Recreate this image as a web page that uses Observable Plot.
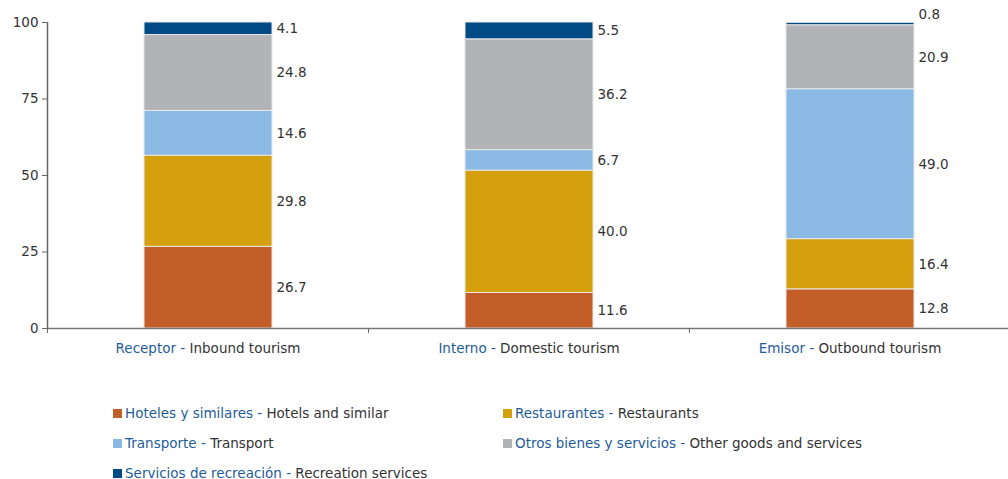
<!DOCTYPE html>
<html>
<head>
<meta charset="utf-8">
<script src="https://cdn.jsdelivr.net/npm/d3@7"></script>
<script src="https://cdn.jsdelivr.net/npm/@observablehq/plot@0.6"></script>
<style>
  body { margin: 0; background: #fff; font-family: "DejaVu Sans", Verdana, sans-serif; }
  #legend { padding: 3px 0 0 113px; display: grid; grid-template-columns: 390px 400px; font-size: 13.5px; color: #333; }
  #legend .item { height: 30px; display: flex; align-items: center; white-space: nowrap; }
  #legend .sw { width: 9px; height: 9px; margin-right: 3px; display: inline-block; }
  #legend .es { color: #1f5c99; }
</style>
</head>
<body>
<div id="chart"></div>
<div id="legend"></div>
<script>
const groupsEs = ["Receptor", "Interno", "Emisor"];
const groupsEn = ["Inbound tourism", "Domestic tourism", "Outbound tourism"];
const seriesEs = ["Hoteles y similares", "Restaurantes", "Transporte", "Otros bienes y servicios", "Servicios de recreación"];
const seriesEn = ["Hotels and similar", "Restaurants", "Transport", "Other goods and services", "Recreation services"];
const colors = ["#c45e28", "#d4a00e", "#8ab9e3", "#b2b3b6", "#004a85"];
const hotels = [26.7, 11.6, 12.8];
const restaurants = [29.8, 40.0, 16.4];
const transport = [14.6, 6.7, 49.0];
const other = [24.8, 36.2, 20.9];
const recreation = [4.1, 5.5, 0.8];
const yTicks = [0, 25, 50, 75, 100];

const seriesValues = [hotels, restaurants, transport, other, recreation];
const rows = [];
groupsEs.forEach((g, gi) => {
  let acc = 0;
  seriesValues.forEach((vals, si) => {
    const v = vals[gi];
    rows.push({gi, series: seriesEs[si], value: v, y1: acc, y2: acc + v});
    acc += v;
  });
});
const cats = groupsEs.map((g, i) => ({gi: i, label: g + " - " + groupsEn[i]}));
const big = rows.filter(d => d.value >= 2);
const tiny = rows.filter(d => d.value < 2);

const chart = Plot.plot({
  width: 1008,
  height: 395,
  marginLeft: 47,
  marginRight: 0,
  marginTop: 22,
  marginBottom: 67,
  style: {fontFamily: "DejaVu Sans, Verdana, sans-serif", fontSize: "13.5px", color: "#333", overflow: "visible"},
  x: {domain: [0, 3], range: [47, 1010], axis: null},
  y: {domain: [0, 100], axis: null},
  color: {domain: seriesEs, range: colors},
  marks: [
    Plot.rect(rows, {
      x1: d => d.gi, x2: d => d.gi + 1, y1: "y1", y2: "y2",
      insetLeft: 97, insetRight: 96,
      fill: "series", stroke: "#e8e8e8", strokeWidth: 1
    }),
    Plot.text(big, {
      x: d => d.gi + 1,
      y: d => (d.y1 + d.y2) / 2,
      text: d => d.value.toFixed(1),
      dx: -92,
      textAnchor: "start",
      fill: "#333",
      fontSize: 13.5
    }),
    Plot.text(tiny, {
      x: d => d.gi + 1,
      y: "y2",
      text: d => d.value.toFixed(1),
      dx: -92,
      dy: -8,
      textAnchor: "start",
      fill: "#333",
      fontSize: 13.5
    }),
    Plot.axisY({ticks: yTicks, tickSize: 5, tickPadding: 4, stroke: "#666", fill: "#333", fontSize: 13.5}),
    Plot.ruleX([0], {stroke: "#666", strokeWidth: 1.5}),
    Plot.ruleY([0], {stroke: "#777", strokeWidth: 1.5}),
    Plot.axisX({ticks: [0, 1, 2, 3], tickSize: 5, tickFormat: () => "", stroke: "#666"}),
    Plot.text(cats, {
      x: d => d.gi + 0.5, y: 0, dy: 20, text: "label",
      fill: "#333", fontSize: 13.5, className: "cat"
    })
  ]
});
document.getElementById("chart").appendChild(chart);

// colour the Spanish part of category labels
d3.select(chart).selectAll(".cat text").each(function() {
  const t = d3.select(this);
  const s = t.text();
  const i = s.indexOf(" - ");
  t.text(null);
  t.append("tspan").attr("fill", "#1f5c99").text(s.slice(0, i));
  t.append("tspan").attr("fill", "#1f5c99").text(" -");
  t.append("tspan").attr("fill", "#333").text(s.slice(i + 2));
});

const legend = document.getElementById("legend");
seriesEs.forEach((s, i) => {
  const div = document.createElement("div");
  div.className = "item";
  div.innerHTML = `<span class="sw" style="background:${colors[i]}"></span><span class="es">${s} -</span>&nbsp;<span>${seriesEn[i]}</span>`;
  legend.appendChild(div);
});
</script>
</body>
</html>
